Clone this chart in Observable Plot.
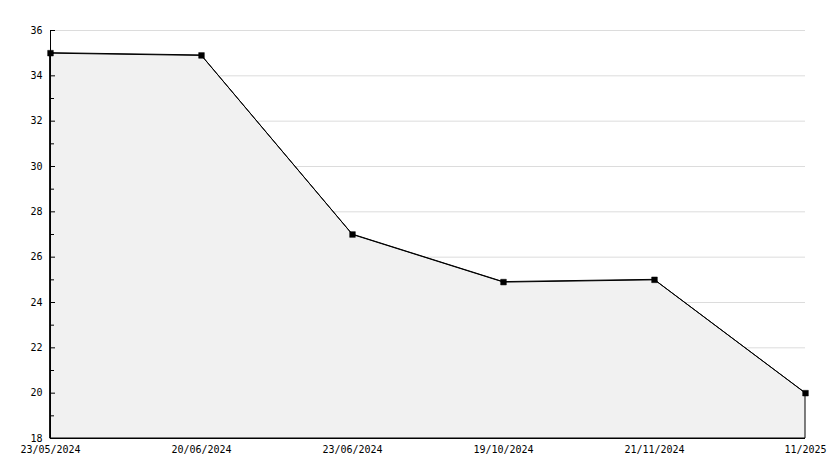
<!DOCTYPE html>
<html>
<head>
<meta charset="utf-8">
<script src="https://cdn.jsdelivr.net/npm/d3@7"></script>
<script src="https://cdn.jsdelivr.net/npm/@observablehq/plot@0.6"></script>
<style>
  html, body { margin: 0; padding: 0; background: #fff; }
</style>
</head>
<body>
<div id="chart"></div>
<script>
const dates = ["23/05/2024", "20/06/2024", "23/06/2024", "19/10/2024", "21/11/2024", "11/2025"];
const values = [35, 34.9, 27, 24.9, 25, 20];
const majorTicks = [18, 20, 22, 24, 26, 28, 30, 32, 34, 36];
const minorTicks = [19, 21, 23, 25, 27, 29, 31, 33, 35];

const data = dates.map((d, i) => ({date: d, value: values[i]}));
const W = 834, H = 468;
const mL = 50, mR = 29, mT = 30, mB = 30;
const frameW = W - mL - mR;

const chart = Plot.plot({
  width: W,
  height: H,
  marginLeft: mL,
  marginRight: mR,
  marginTop: mT,
  marginBottom: mB,
  style: {fontFamily: "'DejaVu Sans Mono', monospace", fontSize: "10px", color: "#000", background: "#fff"},
  x: {type: "point", domain: dates, padding: 0, label: null},
  y: {domain: [18, 36], label: null},
  marks: [
    Plot.ruleY(majorTicks.filter(t => t > 18), {stroke: "#dcdcdc", strokeWidth: 1}),
    Plot.areaY(data, {x: "date", y1: 18, y2: "value", fill: "#f1f1f1", stroke: "#000", strokeWidth: 1}),
    Plot.lineY(data, {x: "date", y: "value", stroke: "#000", strokeWidth: 1}),
    Plot.ruleX([dates[0]], {stroke: "#000"}),
    Plot.ruleY([18], {stroke: "#000"}),
    Plot.ruleY(majorTicks, {stroke: "#000", insetRight: frameW - 5}),
    Plot.ruleY(minorTicks, {stroke: "#000", insetRight: frameW - 4}),
    Plot.dot(data, {x: "date", y: "value", symbol: "square", r: 3.2, fill: "#000", stroke: "#000", strokeWidth: 0.5}),
    Plot.axisY({ticks: majorTicks, tickSize: 0, tickPadding: 8, label: null}),
    Plot.axisX({tickSize: 0, tickPadding: 7, label: null})
  ]
});
document.getElementById("chart").appendChild(chart);
</script>
</body>
</html>
